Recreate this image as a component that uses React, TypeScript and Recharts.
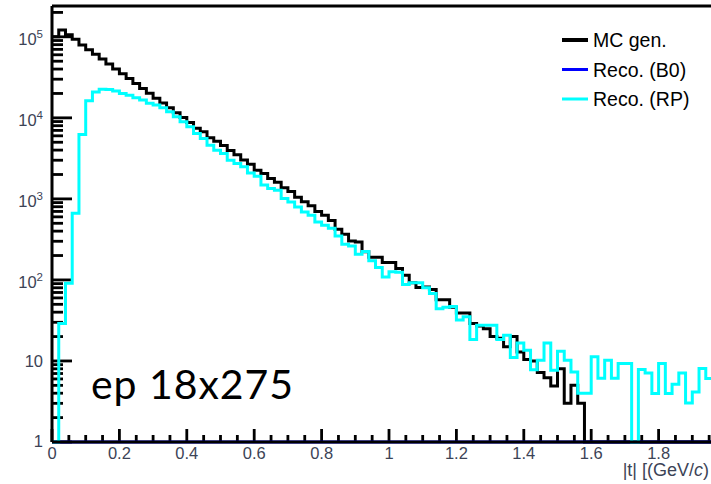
import React from 'react';
import { LineChart, Line, XAxis, YAxis, Legend, ReferenceLine, Customized } from 'recharts';

// Histogram definition: 0.02-wide bins starting at |t| = 0
const BIN_WIDTH = 0.02;
const X_MAX = 2;
const Y_MIN = 1;
const Y_MAX = 2.4e5;

// MC generated |t| distribution (counts per bin)
const mcGen = [
  100000, 121000, 106000, 93000, 79500, 69000, 61000, 53100, 46200, 40200,
  35000, 30500, 26500, 23100, 20100, 17500, 15300, 13300, 11600, 10100,
  8770, 7450, 6720, 5700, 5150, 4550, 3950, 3500, 3020, 2680,
  2250, 2060, 1780, 1600, 1370, 1230, 1050, 920, 820, 700,
  630, 540, 422, 367, 303, 294, 222, 191, 190, 164,
  164, 138, 114, 92, 80.5, 82, 76, 57, 57, 46,
  39, 39, 29, 27, 25, 20, 19, 15, 20, 12.9,
  10.4, 10, 7.2, 6.2, 4.9, 8, 3, 5, 3, 0,
  0, 0, 0, 0, 0, 0, 0, 0, 0, 0,
  0, 0, 0, 0, 0, 0, 0, 0,
];

// Reconstructed in B0 tracker (empty)
const recoB0 = [
  0, 0, 0, 0, 0, 0, 0, 0, 0, 0,
  0, 0, 0, 0, 0, 0, 0, 0, 0, 0,
  0, 0, 0, 0, 0, 0, 0, 0, 0, 0,
  0, 0, 0, 0, 0, 0, 0, 0, 0, 0,
  0, 0, 0, 0, 0, 0, 0, 0, 0, 0,
  0, 0, 0, 0, 0, 0, 0, 0, 0, 0,
  0, 0, 0, 0, 0, 0, 0, 0, 0, 0,
  0, 0, 0, 0, 0, 0, 0, 0, 0, 0,
  0, 0, 0, 0, 0, 0, 0, 0, 0, 0,
  0, 0, 0, 0, 0, 0, 0, 0,
];

// Reconstructed in Roman Pots
const recoRP = [
  0, 29, 91, 666, 6240, 16200, 20900, 22600, 22300, 21500,
  20000, 19000, 17700, 16600, 15100, 14400, 13300, 11900, 10300, 8930,
  7750, 6420, 5570, 4600, 3990, 3630, 3000, 2740, 2490, 2090,
  1900, 1480, 1340, 1280, 1010, 918, 796, 691, 629, 520,
  473, 435, 349, 276, 263, 208, 224, 172, 142, 109,
  126, 124, 88, 92, 92, 80, 68, 44, 46, 47,
  32, 35, 18.4, 27.6, 27.6, 27.6, 18.4, 20.8, 11, 16.7,
  13.6, 7.8, 10.2, 16.7, 7.7, 13.2, 10.2, 7.3, 4, 4,
  11.3, 6.1, 10.2, 6.1, 9.3, 9.3, 0, 7.85, 7.1, 3.96,
  9.3, 3.96, 5.16, 7.1, 3.03, 4.14, 8.06, 6.06,
];

const SERIES = [
  { key: 'mc', name: 'MC gen.', color: '#000000', width: 3, legendWidth: 4 },
  { key: 'b0', name: 'Reco. (B0)', color: '#0000ff', width: 3, legendWidth: 3 },
  { key: 'rp', name: 'Reco. (RP)', color: '#00ffff', width: 3, legendWidth: 3 },
];

const X_TICK_STEP = 0.05;
const X_LABEL_STEP = 0.2;
const X_TITLE = '|t| [(GeV/';
const ANNOTATION = 'ep 18x275';

// chart layout
const CHART_W = 726;
const CHART_H = 484;
const MARGIN_TOP = 6;
const Y_AXIS_W = 52;
const X_AXIS_H = 42;
const PLOT_LEFT = Y_AXIS_W;
const PLOT_TOP = MARGIN_TOP;
const PLOT_W = CHART_W - Y_AXIS_W;
const PLOT_H = CHART_H - MARGIN_TOP - X_AXIS_H;

// empty bins are drawn on the lower frame, as ROOT does on a log axis
const floorLog = (v: number) => Math.max(v, Y_MIN);

const rows: any[] = mcGen.map((_, i) => ({
  x: +(i * BIN_WIDTH).toFixed(2),
  mc: floorLog(mcGen[i]),
  b0: floorLog(recoB0[i]),
  rp: floorLog(recoRP[i]),
}));
const n = mcGen.length;
rows.push({
  x: +(n * BIN_WIDTH).toFixed(2),
  mc: floorLog(mcGen[n - 1]),
  b0: floorLog(recoB0[n - 1]),
  rp: floorLog(recoRP[n - 1]),
});

const xTicks: number[] = [];
for (let i = 0; i <= Math.round(X_MAX / X_TICK_STEP); i++) xTicks.push(+(i * X_TICK_STEP).toFixed(2));

const yTicks: number[] = [];
for (let e = 0; e <= 5; e++) {
  for (let m = 1; m <= 9; m++) {
    const v = m * Math.pow(10, e);
    if (v <= Y_MAX) yTicks.push(v);
  }
}

const isXMajor = (v: number) => {
  const r = v / X_LABEL_STEP;
  return Math.abs(r - Math.round(r)) < 1e-6;
};
const isYMajor = (v: number) => {
  const lg = Math.log10(v);
  return Math.abs(lg - Math.round(lg)) < 1e-6;
};

const LABEL_COLOR = '#3c4356';
const LABEL_FONT = '"Liberation Sans", Arial, Helvetica, sans-serif';

const XTick = (props: any) => {
  const x = Number(props.x);
  const y = Number(props.y);
  const v = props.payload.value as number;
  if (!isXMajor(v) || x > 700) return <g />;
  const label = v === 0 ? '0' : Math.abs(v - Math.round(v)) < 1e-6 ? String(Math.round(v)) : v.toFixed(1);
  return (
    <text x={x} y={y + 16.5} textAnchor="middle" fontSize={16.5} fill={LABEL_COLOR} fontFamily={LABEL_FONT}>
      {label}
    </text>
  );
};

const YTick = (props: any) => {
  const x = Number(props.x);
  const y = Number(props.y);
  const v = props.payload.value as number;
  if (!isYMajor(v)) return <g />;
  const exp = Math.round(Math.log10(v));
  if (exp === 0) {
    return <text x={x - 9} y={y + 5} textAnchor="end" fontSize={16.5} fill={LABEL_COLOR} fontFamily={LABEL_FONT}>1</text>;
  }
  if (exp === 1) {
    return <text x={x - 9} y={y + 5.7} textAnchor="end" fontSize={16.5} fill={LABEL_COLOR} fontFamily={LABEL_FONT}>10</text>;
  }
  return (
    <text x={x - 9} y={y + 8} textAnchor="end" fontSize={16.5} fill={LABEL_COLOR} fontFamily={LABEL_FONT}>
      10<tspan dy={-7} fontSize={11.5}>{exp}</tspan>
    </text>
  );
};

// ROOT-style inward tick marks, drawn on top of the frame
const TickMarks = () => {
  const bottom = PLOT_TOP + PLOT_H;
  const logSpan = Math.log10(Y_MAX / Y_MIN);
  const xPos = (v: number) => PLOT_LEFT + (v / X_MAX) * PLOT_W;
  const yPos = (v: number) => PLOT_TOP + PLOT_H * (1 - Math.log10(v / Y_MIN) / logSpan);
  return (
    <g>
      {xTicks.map((v) => {
        const len = isXMajor(v) ? 13 : 7;
        const x = xPos(v);
        return <rect key={`xm${v}`} x={x - 1.4} y={bottom - len} width={2.8} height={len} fill="#000" />;
      })}
      {yTicks.map((v) => {
        const len = isYMajor(v) ? 20 : 11;
        const y = yPos(v);
        return <rect key={`ym${v}`} x={PLOT_LEFT} y={y - 1.4} width={len} height={2.8} fill="#000" />;
      })}
    </g>
  );
};

const XTitle = () => (
  <text x={709} y={476} textAnchor="end" fontSize={18} fill={LABEL_COLOR} fontFamily={LABEL_FONT}>
    {X_TITLE}
    <tspan fontStyle="italic">c</tspan>
    {')'}
  </text>
);

const LegendContent = (props: any) => {
  const payload = props.payload || [];
  return (
    <svg width={150} height={92} style={{ display: 'block' }}>
      {payload.map((e: any, i: number) => {
        const s = SERIES.find((d) => d.name === e.value) || SERIES[i];
        const cy = 15 + 29.5 * i;
        return (
          <g key={i}>
            <line x1={4} x2={30} y1={cy} y2={cy} stroke={s.color} strokeWidth={s.legendWidth} />
            <text x={35} y={cy + 7} fontSize={19.5} fill="#000" fontFamily={LABEL_FONT}>
              {e.value}
            </text>
          </g>
        );
      })}
    </svg>
  );
};

const Annotation = () => (
  <text x={91} y={399} fontSize={41} fill="#000" fontFamily="Lato, 'Open Sans', sans-serif" textLength={202} lengthAdjust="spacing">
    {ANNOTATION}
  </text>
);

export default function App() {
  return (
    <div style={{ position: 'absolute', left: 0, top: 0, width: 711, height: 484, overflow: 'hidden', background: '#fff' }}>
      <LineChart width={CHART_W} height={CHART_H} data={rows} margin={{ top: MARGIN_TOP, right: 0, bottom: 0, left: 0 }}>
        <XAxis
          type="number"
          dataKey="x"
          domain={[0, X_MAX]}
          ticks={xTicks}
          interval={0}
          tick={<XTick />}
          tickSize={0}
          tickMargin={0}
          tickLine={false}
          axisLine={{ stroke: '#000', strokeWidth: 3 }}
          height={X_AXIS_H}
          label={<XTitle />}
        />
        <YAxis
          type="number"
          scale="log"
          domain={[Y_MIN, Y_MAX]}
          ticks={yTicks}
          interval={0}
          tick={<YTick />}
          tickSize={0}
          tickMargin={0}
          tickLine={false}
          axisLine={{ stroke: '#000', strokeWidth: 3 }}
          width={Y_AXIS_W}
        />
        <ReferenceLine y={Y_MAX} stroke="#000" strokeWidth={3} ifOverflow="visible" />
        {SERIES.map((s) => (
          <Line
            key={s.key}
            type="stepAfter"
            dataKey={s.key}
            name={s.name}
            stroke={s.color}
            strokeWidth={s.width}
            strokeLinejoin="miter"
            dot={false}
            activeDot={false}
            isAnimationActive={false}
          />
        ))}
        <Legend
          layout="vertical"
          align="center"
          verticalAlign="middle"
          content={<LegendContent />}
          wrapperStyle={{ left: 558, top: 25, width: 150, height: 92 }}
        />
        <Customized component={TickMarks} />
        <Customized component={Annotation} />
      </LineChart>
    </div>
  );
}
